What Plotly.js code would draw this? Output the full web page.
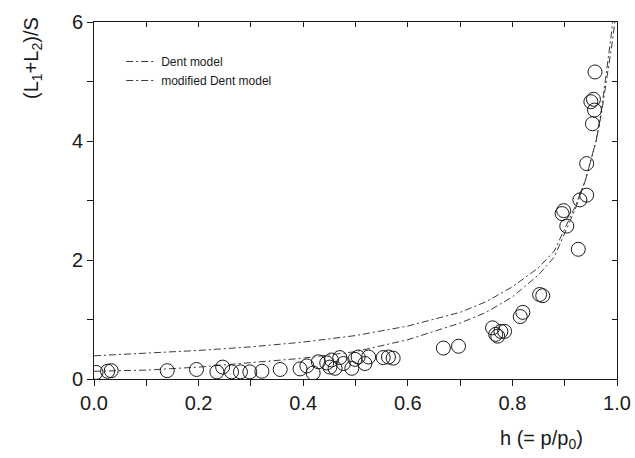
<!DOCTYPE html>
<html>
<head>
<meta charset="utf-8">
<script src="https://cdn.plot.ly/plotly-3.0.1.min.js"></script>
<style>html,body{margin:0;padding:0;background:#fff;}#chart{width:635px;height:458px;}</style>
</head>
<body>
<div id="chart"></div>
<script>
// Measured data (h = p/p0, (L1+L2)/S)
var dataH = [0.004, 0.026, 0.033, 0.14, 0.196, 0.235, 0.246, 0.263, 0.280, 0.298, 0.321, 0.356, 0.394, 0.407, 0.419, 0.429, 0.445, 0.451,
             0.454, 0.461, 0.470, 0.477, 0.493, 0.499, 0.505, 0.518, 0.525, 0.553, 0.563, 0.572, 0.668, 0.697,
             0.762, 0.768, 0.772, 0.778, 0.785, 0.815, 0.820, 0.852, 0.858,
             0.895, 0.898, 0.904, 0.926, 0.929, 0.942, 0.942, 0.950, 0.953, 0.955, 0.957, 0.958];
var dataV = [0.11, 0.13, 0.14, 0.14, 0.16, 0.12, 0.20, 0.12, 0.12, 0.12, 0.13, 0.16, 0.17, 0.22, 0.10, 0.29, 0.27, 0.20,
             0.32, 0.18, 0.36, 0.26, 0.18, 0.33, 0.37, 0.26, 0.37, 0.36, 0.37, 0.35, 0.52, 0.55,
             0.86, 0.75, 0.72, 0.80, 0.80, 1.05, 1.12, 1.42, 1.40,
             2.78, 2.83, 2.57, 2.18, 3.01, 3.09, 3.62, 4.66, 4.29, 4.70, 4.52, 5.16];

// Model curves
var dentH = [0, 0.1, 0.2, 0.3, 0.4, 0.5, 0.6, 0.7, 0.75, 0.8, 0.85, 0.88, 0.9, 0.92, 0.94, 0.96, 0.97, 0.98, 0.99, 0.995];
var dentV = [0.39, 0.43, 0.48, 0.54, 0.62, 0.73, 0.89, 1.12, 1.30, 1.55, 1.87, 2.15, 2.52, 2.9, 3.35, 4.0, 4.5, 5.15, 5.85, 6.3];
var modH = [0, 0.1, 0.2, 0.3, 0.4, 0.5, 0.6, 0.7, 0.75, 0.8, 0.85, 0.88, 0.9, 0.92, 0.94, 0.96, 0.97, 0.98, 0.99, 0.996];
var modV = [0.13, 0.15, 0.20, 0.27, 0.35, 0.46, 0.66, 0.94, 1.12, 1.38, 1.75, 2.05, 2.45, 2.85, 3.35, 4.0, 4.45, 5.0, 5.6, 6.0];

var xTicks = [0, 0.2, 0.4, 0.6, 0.8, 1.0];
var xTickText = ['0.0', '0.2', '0.4', '0.6', '0.8', '1.0'];
var yTicks = [0, 2, 4, 6];
var yTickText = ['0', '2', '4', '6'];

var FONT = 'Liberation Sans, Arial, sans-serif';
var INK = '#1a1a1a';

var traces = [
  {x: dentH, y: dentV, type: 'scatter', mode: 'lines', name: 'Dent model',
   line: {color: '#3a3a3a', width: 1, dash: '7px,3px,2px,3px'}},
  {x: modH, y: modV, type: 'scatter', mode: 'lines', name: 'modified Dent model',
   line: {color: '#3a3a3a', width: 1, dash: '7px,3px,2px,3px'}},
  {x: dataH, y: dataV, type: 'scatter', mode: 'markers', showlegend: false,
   marker: {symbol: 'circle-open', size: 14, color: INK, line: {width: 1, color: INK}}},
  {x: [0.5], y: [3], xaxis: 'x2', yaxis: 'y2', type: 'scatter', mode: 'markers',
   marker: {opacity: 0}, showlegend: false, hoverinfo: 'skip'}
];

var layout = {
  width: 635, height: 458,
  margin: {l: 94, r: 18, t: 22, b: 79},
  paper_bgcolor: '#fff', plot_bgcolor: '#fff',
  font: {family: FONT, color: INK},
  showlegend: true,
  legend: {x: 0.052, y: 0.93, xanchor: 'left', yanchor: 'top',
           font: {family: FONT, size: 12, color: INK}, bgcolor: 'rgba(0,0,0,0)'},
  xaxis: {range: [0, 1], tickvals: xTicks, ticktext: xTickText, ticks: 'outside', ticklen: 6,
          tickwidth: 1, tickcolor: INK, minor: {dtick: 0.1, tick0: 0, ticks: 'outside', ticklen: 6, tickcolor: INK},
          showline: true, linecolor: INK, linewidth: 1, mirror: true, showgrid: false, zeroline: false,
          tickfont: {family: FONT, size: 20, color: INK}},
  yaxis: {range: [0, 6], tickvals: yTicks, ticktext: yTickText, ticks: 'outside', ticklen: 6,
          tickwidth: 1, tickcolor: INK, minor: {dtick: 1, tick0: 0, ticks: 'outside', ticklen: 6, tickcolor: INK},
          showline: true, linecolor: INK, linewidth: 1, mirror: true, showgrid: false, zeroline: false,
          tickfont: {family: FONT, size: 20, color: INK}},
  xaxis2: {overlaying: 'x', side: 'top', range: [0, 1], dtick: 0.1, tick0: 0, ticks: 'inside', ticklen: 5,
           tickcolor: INK, showticklabels: false, showgrid: false, zeroline: false, showline: false},
  yaxis2: {overlaying: 'y', side: 'right', range: [0, 6], dtick: 1, tick0: 0, ticks: 'inside', ticklen: 5,
           tickcolor: INK, showticklabels: false, showgrid: false, zeroline: false, showline: false},
  annotations: [
    {text: '(L<sub>1</sub>+L<sub>2</sub>)/S', xref: 'paper', yref: 'paper', x: -0.118, y: 0.90,
     xanchor: 'center', yanchor: 'middle', textangle: -90, showarrow: false,
     font: {family: FONT, size: 20, color: INK}},
    {text: 'h (= p/p<sub>0</sub>)', xref: 'paper', yref: 'paper', x: 0.855, y: -0.17,
     xanchor: 'center', yanchor: 'middle', showarrow: false,
     font: {family: FONT, size: 20, color: INK}}
  ]
};

Plotly.newPlot('chart', traces, layout, {displayModeBar: false, staticPlot: true});
</script>
</body>
</html>
